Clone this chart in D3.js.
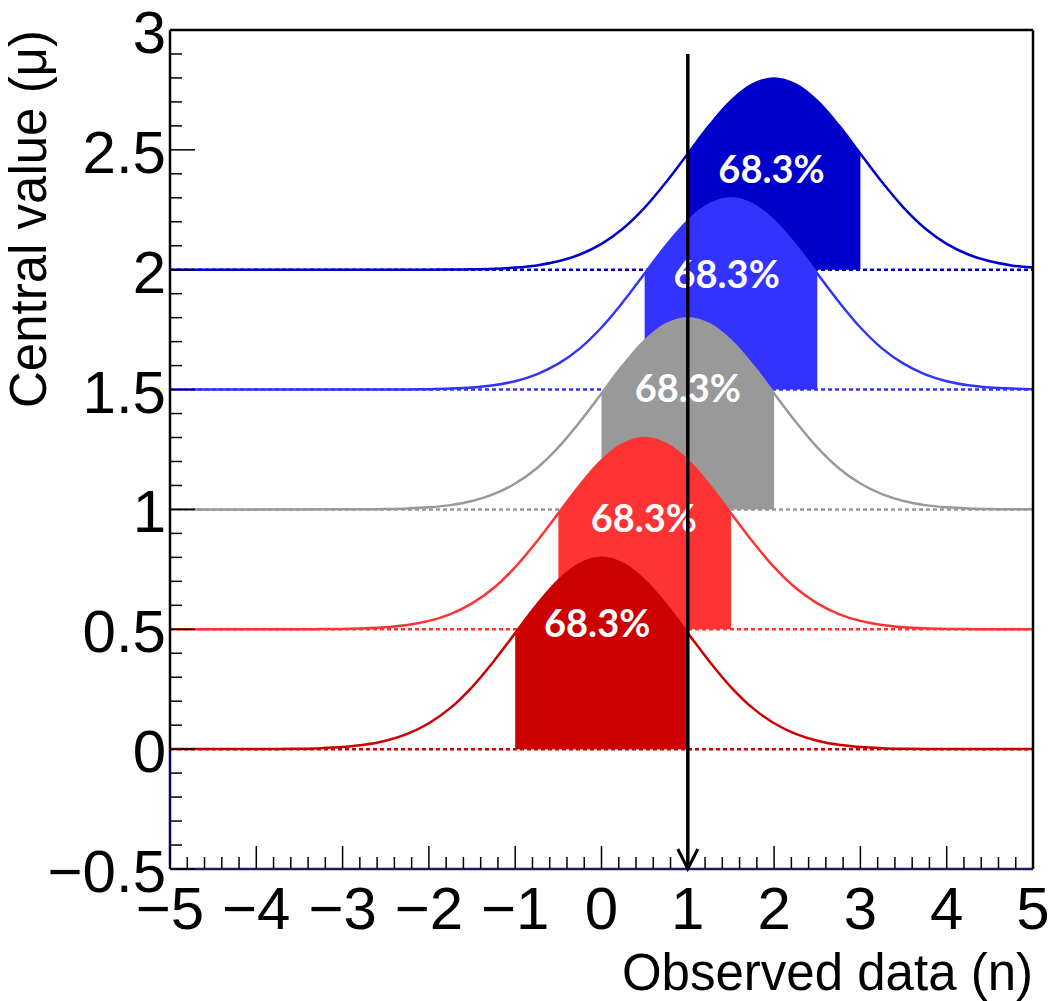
<!DOCTYPE html>
<html>
<head>
<meta charset="utf-8">
<script src="https://cdn.jsdelivr.net/npm/d3@7"></script>
<style>
  html, body { margin: 0; padding: 0; background: #fff; }
  svg { display: block; }
</style>
</head>
<body>
<svg id="chart" width="1059" height="1001"></svg>
<script>
// ---------- data ----------
const muValues = [2, 1.5, 1, 0.5, 0];
const seriesColors = ["#0000cc", "#3333ff", "#999999", "#ff3333", "#cc0000"];
// shape of each curve: height above its central value vs offset from it
const shapeOffsets = [-4, -3.75, -3.5, -3.25, -3, -2.75, -2.5, -2.25, -2, -1.75, -1.5, -1.25, -1, -0.75, -0.5, -0.25,
  0, 0.25, 0.5, 0.75, 1, 1.25, 1.5, 1.75, 2, 2.25, 2.5, 2.75, 3, 3.25, 3.5, 3.75, 4];
const shapeHeights = [0.0003, 0.0007, 0.0017, 0.0041, 0.0089, 0.018, 0.035, 0.0635, 0.108, 0.172, 0.259, 0.366, 0.484, 0.602, 0.704, 0.773,
  0.798, 0.773, 0.704, 0.602, 0.484, 0.366, 0.259, 0.172, 0.108, 0.0635, 0.035, 0.018, 0.0089, 0.0041, 0.0017, 0.0007, 0.0003];
const bandHalfWidth = 1;            // shaded band: mu-1 .. mu+1
const bandLabel = "68.3%";
const labelN = [1.97, 1.45, 1.0, 0.49, -0.05];
const labelMu = [2.36, 1.923, 1.448, 0.905, 0.467];
const arrowN = 1;
const arrowTopMu = 2.9;
const xTicks = [-5, -4, -3, -2, -1, 0, 1, 2, 3, 4, 5];
const xTickLabels = ["\u22125", "\u22124", "\u22123", "\u22122", "\u22121", "0", "1", "2", "3", "4", "5"];
const yTicks = [-0.5, 0, 0.5, 1, 1.5, 2, 2.5, 3];
const yTickLabels = ["\u22120.5", "0", "0.5", "1", "1.5", "2", "2.5", "3"];
const xTitle = "Observed data (n)";
const yTitle = "Central value (\u03bc)";

// ---------- layout ----------
const L = 170, R = 1033, T = 30, B = 869;
const x = d3.scaleLinear().domain([-5, 5]).range([L, R]);
const y = d3.scaleLinear().domain([-0.5, 3]).range([B, T]);

const svg = d3.select("#chart");
const defs = svg.append("defs");
defs.append("clipPath").attr("id", "plotClip")
  .append("rect").attr("x", L).attr("y", T).attr("width", R - L).attr("height", B - T);

const plot = svg.append("g").attr("clip-path", "url(#plotClip)");

const font = "'Liberation Sans', Arial, Helvetica, sans-serif";

muValues.forEach((mu, i) => {
  const color = seriesColors[i];
  const pts = [[mu - 10, 0]].concat(shapeOffsets.map((o, k) => [mu + o, shapeHeights[k]])).concat([[mu + 10, 0]]);

  // dotted baseline
  plot.append("line")
    .attr("x1", x(-5)).attr("x2", x(5))
    .attr("y1", y(mu)).attr("y2", y(mu))
    .attr("stroke", color).attr("stroke-width", 2.5)
    .attr("stroke-dasharray", "4,3");

  // shaded band
  const cid = "band" + i;
  defs.append("clipPath").attr("id", cid)
    .append("rect")
    .attr("x", x(mu - bandHalfWidth)).attr("y", T)
    .attr("width", x(mu + bandHalfWidth) - x(mu - bandHalfWidth))
    .attr("height", B - T);
  const area = d3.area()
    .x(d => x(d[0])).y0(y(mu)).y1(d => y(mu + d[1]))
    .curve(d3.curveCatmullRom);
  plot.append("path")
    .attr("d", area(pts))
    .attr("fill", color)
    .attr("clip-path", `url(#${cid})`);

  // curve
  const line = d3.line().x(d => x(d[0])).y(d => y(mu + d[1])).curve(d3.curveCatmullRom);
  plot.append("path")
    .attr("d", line(pts))
    .attr("fill", "none").attr("stroke", color).attr("stroke-width", 2.5);

  // label
  svg.append("text")
    .attr("x", x(labelN[i])).attr("y", y(labelMu[i]))
    .attr("text-anchor", "middle")
    .attr("fill", "#fff")
    .attr("font-family", "Lato, 'Noto Sans', sans-serif")
    .attr("font-weight", "bold")
    .attr("font-size", 38)
    .text(bandLabel);
});

// ---------- frame ----------
svg.append("line").attr("x1", L).attr("x2", R).attr("y1", T).attr("y2", T).attr("stroke", "#000").attr("stroke-width", 2.5);
svg.append("line").attr("x1", R).attr("x2", R).attr("y1", T).attr("y2", B).attr("stroke", "#000").attr("stroke-width", 2.5);
svg.append("line").attr("x1", L).attr("x2", L).attr("y1", T).attr("y2", y(0)).attr("stroke", "#000").attr("stroke-width", 2.5);
svg.append("line").attr("x1", L).attr("x2", L).attr("y1", y(0)).attr("y2", B).attr("stroke", "#000066").attr("stroke-width", 2.5);
svg.append("line").attr("x1", L).attr("x2", R).attr("y1", B).attr("y2", B).attr("stroke", "#1a1a5e").attr("stroke-width", 2.5);

// y ticks
const yMinor = d3.range(-5, 31).map(v => v / 10);
svg.append("g").selectAll("line").data(yMinor).join("line")
  .attr("x1", L).attr("x2", (d, k) => L + ((k % 5 === 0) ? 25 : 12))
  .attr("y1", d => y(d)).attr("y2", d => y(d))
  .attr("stroke", "#000").attr("stroke-width", 1.5);
// x ticks
const xMinor = d3.range(-25, 26).map(v => v / 5);
svg.append("g").selectAll("line").data(xMinor).join("line")
  .attr("x1", d => x(d)).attr("x2", d => x(d))
  .attr("y1", B).attr("y2", (d, k) => B - ((k % 5 === 0) ? 23 : 12))
  .attr("stroke", "#000").attr("stroke-width", 1.5);

// tick labels
svg.append("g").selectAll("text").data(yTicks).join("text")
  .attr("x", 166).attr("y", d => y(d) + 23)
  .attr("text-anchor", "end")
  .attr("font-family", font).attr("font-size", 60)
  .text((d, k) => yTickLabels[k]);
svg.append("g").selectAll("text").data(xTicks).join("text")
  .attr("x", d => x(d)).attr("y", 929)
  .attr("text-anchor", "middle")
  .attr("font-family", font).attr("font-size", 60)
  .text((d, k) => xTickLabels[k]);

// titles
svg.append("text")
  .attr("x", R).attr("y", 990)
  .attr("text-anchor", "end")
  .attr("font-family", font).attr("font-size", 51)
  .text(xTitle);
svg.append("text")
  .attr("transform", `translate(46,${T}) rotate(-90)`)
  .attr("text-anchor", "end")
  .attr("font-family", font).attr("font-size", 51)
  .text(yTitle);

// arrow
const ax = x(arrowN);
svg.append("line")
  .attr("x1", ax).attr("x2", ax).attr("y1", y(arrowTopMu)).attr("y2", y(-0.5))
  .attr("stroke", "#000").attr("stroke-width", 3.5);
svg.append("path")
  .attr("d", `M${ax - 10},${y(-0.5) - 20}L${ax},${y(-0.5)}L${ax + 10},${y(-0.5) - 20}`)
  .attr("fill", "none").attr("stroke", "#000").attr("stroke-width", 3);
</script>
</body>
</html>
